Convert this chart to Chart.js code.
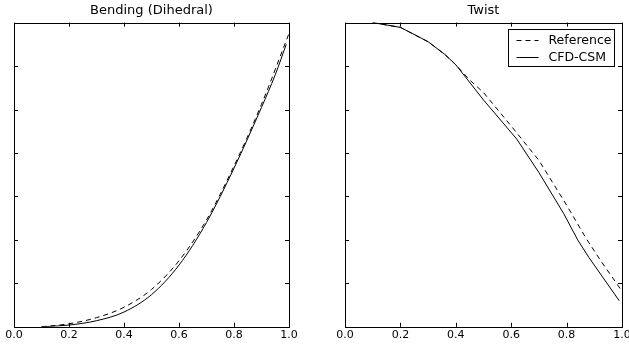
<!DOCTYPE html>
<html>
<head>
<meta charset="utf-8">
<script src="https://cdn.jsdelivr.net/npm/chart.js@4/dist/chart.umd.min.js"></script>
<style>
html, body { margin: 0; padding: 0; background: #fff; overflow: hidden; width: 629px; height: 344px; }
.pane { position: absolute; top: 0; width: 320px; height: 344px; }
#left { left: 0; }
#right { left: 320px; }
</style>
</head>
<body>
<div class="pane" id="left"><canvas id="bend"></canvas></div>
<div class="pane" id="right"><canvas id="twist"></canvas></div>
<script>
// values (y axis has no labels, 7 tick intervals)
var xTickValues = [0.0, 0.2, 0.4, 0.6, 0.8, 1.0];
var yTickValues = [0, 1, 2, 3, 4, 5, 6, 7];
var seriesNames = ["Reference", "CFD-CSM"];

var bendRefX = [0.1, 0.2, 0.3, 0.4, 0.5, 0.6, 0.7, 0.8, 0.9, 1.0];
var bendRefY = [0, 0.07, 0.21, 0.45, 0.86, 1.52, 2.46, 3.7, 5.12, 6.75];
var bendCfdX = [0.1, 0.2, 0.3, 0.4, 0.5, 0.6, 0.7, 0.8, 0.9, 0.95, 0.99];
var bendCfdY = [0, 0.04, 0.14, 0.34, 0.74, 1.42, 2.40, 3.65, 5.05, 5.8, 6.5];

var twistRefX = [0.1, 0.2, 0.3, 0.36, 0.4, 0.45, 0.5, 0.6, 0.7, 0.8, 0.87, 0.92, 1.0];
var twistRefY = [7.0, 6.89, 6.56, 6.27, 6.03, 5.68, 5.39, 4.62, 3.83, 2.8, 2.04, 1.55, 0.82];
var twistCfdX = [0.1, 0.2, 0.3, 0.36, 0.4, 0.5, 0.62, 0.7, 0.79, 0.84, 0.88, 0.99];
var twistCfdY = [7.0, 6.89, 6.56, 6.27, 6.03, 5.22, 4.32, 3.55, 2.6, 2.0, 1.6, 0.6];

var FONT = "'DejaVu Sans', sans-serif";

function pts(xs, ys) {
  return xs.map(function (x, i) { return { x: x, y: ys[i] }; });
}

// matplotlib style box with inward ticks on all four sides
var framePlugin = {
  id: 'frame',
  afterDatasetsDraw: function (chart) {
    var ctx = chart.ctx, a = chart.chartArea;
    var xs = chart.scales.x, ys = chart.scales.y;
    ctx.save();
    ctx.strokeStyle = '#000';
    ctx.lineWidth = 1;
    ctx.strokeRect(Math.round(a.left) + 0.5, Math.round(a.top) + 0.5,
      Math.round(a.right - a.left), Math.round(a.bottom - a.top));
    ctx.beginPath();
    xTickValues.forEach(function (v) {
      var px = Math.round(xs.getPixelForValue(v)) + 0.5;
      ctx.moveTo(px, a.bottom); ctx.lineTo(px, a.bottom - 4);
      ctx.moveTo(px, a.top); ctx.lineTo(px, a.top + 4);
    });
    yTickValues.forEach(function (v) {
      var py = Math.round(ys.getPixelForValue(v)) + 0.5;
      ctx.moveTo(a.left, py); ctx.lineTo(a.left + 4, py);
      ctx.moveTo(a.right, py); ctx.lineTo(a.right - 4, py);
    });
    ctx.stroke();
    ctx.restore();
  }
};

// boxed legend in the upper right corner of the plot
var boxLegend = {
  id: 'boxLegend',
  afterDraw: function (chart, args, opts) {
    if (!opts.show) return;
    var ctx = chart.ctx, a = chart.chartArea;
    var w = 106, h = 37;
    var x0 = Math.round(a.right - 8 - w) + 0.5, y0 = Math.round(a.top + 6) + 0.5;
    ctx.save();
    ctx.fillStyle = '#fff';
    ctx.fillRect(x0, y0, w, h);
    ctx.strokeStyle = '#000';
    ctx.lineWidth = 1;
    ctx.strokeRect(x0, y0, w, h);
    ctx.font = '12.5px ' + FONT;
    ctx.textBaseline = 'middle';
    ctx.fillStyle = '#000';
    chart.data.datasets.forEach(function (ds, i) {
      var cy = Math.round(y0 + 10 + i * 17) + 0.5;
      ctx.setLineDash(ds.borderDash || []);
      ctx.beginPath();
      ctx.moveTo(x0 + 8, cy);
      ctx.lineTo(x0 + 30, cy);
      ctx.stroke();
      ctx.setLineDash([]);
      ctx.fillText(ds.label, x0 + 40, cy);
    });
    ctx.restore();
  }
};

function makeChart(id, title, refData, cfdData, curved, pad, legend) {
  return new Chart(document.getElementById(id), {
    type: 'line',
    data: {
      datasets: [{
        label: seriesNames[0],
        data: refData,
        borderColor: '#000',
        borderWidth: 1,
        borderDash: [5, 4],
        pointRadius: 0,
        fill: false,
        cubicInterpolationMode: curved ? 'monotone' : 'default',
        tension: 0
      }, {
        label: seriesNames[1],
        data: cfdData,
        borderColor: '#000',
        borderWidth: 1,
        pointRadius: 0,
        fill: false,
        cubicInterpolationMode: curved ? 'monotone' : 'default',
        tension: 0
      }]
    },
    options: {
      responsive: true,
      maintainAspectRatio: false,
      animation: false,
      layout: { padding: pad },
      plugins: {
        legend: { display: false },
        tooltip: { enabled: false },
        title: {
          display: true,
          text: title,
          color: '#000',
          font: { family: FONT, size: 13, weight: 'normal' },
          padding: { top: 3, bottom: 4 }
        },
        boxLegend: { show: legend }
      },
      scales: {
        x: {
          type: 'linear',
          min: 0,
          max: 1,
          afterBuildTicks: function (s) {
            s.ticks = xTickValues.map(function (v) { return { value: v }; });
          },
          ticks: {
            color: '#000',
            font: { family: FONT, size: 11 },
            padding: 2,
            maxRotation: 0,
            autoSkip: false,
            callback: function (v) { return Number(v).toFixed(1); }
          },
          grid: { display: false, drawTicks: false },
          border: { display: false }
        },
        y: {
          type: 'linear',
          min: 0,
          max: 7,
          ticks: { display: false },
          grid: { display: false, drawTicks: false },
          border: { display: false }
        }
      }
    },
    plugins: [framePlugin, boxLegend]
  });
}

makeChart('bend', 'Bending (Dihedral)', pts(bendRefX, bendRefY), pts(bendCfdX, bendCfdY),
  true, { left: 14, right: 31, top: 0, bottom: 0 }, false);
makeChart('twist', 'Twist', pts(twistRefX, twistRefY), pts(twistCfdX, twistCfdY),
  false, { left: 25, right: 18, top: 0, bottom: 0 }, true);
</script>
</body>
</html>
